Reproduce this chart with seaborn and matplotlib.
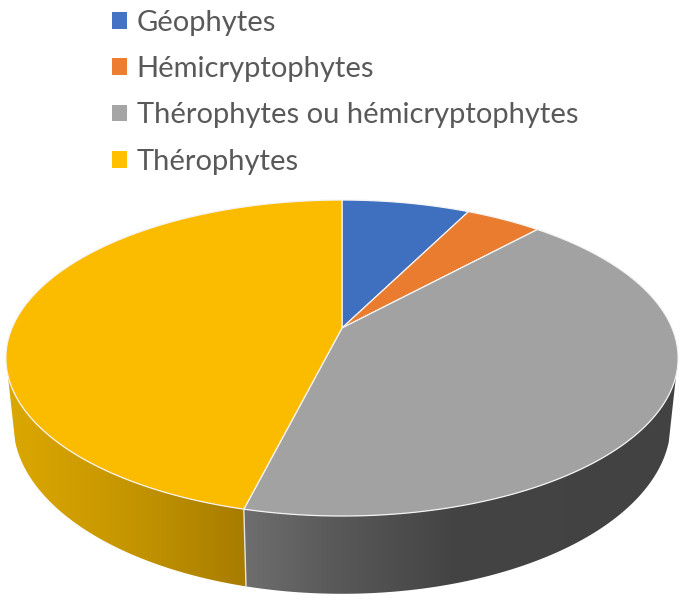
import numpy as np
import matplotlib.pyplot as plt
from matplotlib.patches import Patch, Polygon
from matplotlib.colors import to_rgb
import seaborn as sns

labels = ['Géophytes', 'Hémicryptophytes', 'Thérophytes ou hémicryptophytes', 'Thérophytes']
shares = [7.4, 4.4, 42.1, 46.1]
legend_colors = ['#4472C4', '#ED7D31', '#A5A5A5', '#FFC000']
top_colors = ['#3F6FBF', '#EA7C30', '#A2A2A2', '#FBBC00']

# wall shading, sampled along x in pixels
wall_x = [None, None, [245, 330, 450, 683], [5, 120, 245]]
wall_colors = [None, None,
               ['#6E6E6E', '#5A5A5A', '#444444', '#424242'],
               ['#DCA800', '#C79700', '#A87C00']]

# projection of the tilted disc
apex_x, apex_y = 342, 328
persp = 0.19
scale_x, scale_y = 330, 152.3
depth = 63
bottom_shrink = 0.978
wall_limit = -0.29

sns.set_theme(style='white')
plt.rcParams['font.family'] = ['Lato', 'DejaVu Sans']


def project(angle, lower=False):
    u, v = np.sin(angle), np.cos(angle)
    d = 1 + persp * v
    x = scale_x * u / d
    y = apex_y - scale_y * v / d
    if lower:
        return apex_x + bottom_shrink * x, y + depth / d
    return apex_x + x, y


fig = plt.figure(figsize=(6.83, 6.00), dpi=100)
ax = fig.add_axes([0, 0, 1, 1])

edges = np.radians(np.concatenate([[0], np.cumsum(shares)]) * 3.6)

# side wall, one gradient image per slice clipped to its outline
columns = np.arange(683) + 0.5
for i in range(len(shares)):
    if wall_x[i] is None:
        continue
    steps = np.linspace(edges[i], edges[i + 1], 400)
    steps = steps[np.cos(steps) < wall_limit]
    outline = [project(a) for a in steps] + [project(a, True) for a in steps[::-1]]
    shape = Polygon(outline, closed=True, facecolor='none', edgecolor='none', transform=ax.transData)
    ax.add_patch(shape)
    ramp = np.array([np.interp(columns, wall_x[i], [to_rgb(k)[n] for k in wall_colors[i]]) for n in range(3)]).T
    im = ax.imshow(ramp[np.newaxis, :, :], extent=(0, 683, 600, 0), aspect='auto', zorder=2)
    im.set_clip_path(shape)

# seam between the two front slices
seam = edges[3]
ax.plot(*zip(project(seam), project(seam, True)), color='#E4E4E4', lw=1.0, zorder=3)

# top of the pie
for i in range(len(shares)):
    steps = np.linspace(edges[i], edges[i + 1], 200)
    pts = [(apex_x, apex_y)] + [project(a) for a in steps]
    ax.add_patch(Polygon(pts, closed=True, facecolor=top_colors[i], edgecolor='#F4F4F4',
                         linewidth=0.9, joinstyle='round', zorder=4))

ax.set_xlim(0, 683)
ax.set_ylim(600, 0)
ax.axis('off')

handles = [Patch(facecolor=c, edgecolor='none') for c in sns.color_palette(legend_colors)]
ax.legend(handles, labels, loc='upper left', bbox_to_anchor=(88.6, -13.8), bbox_transform=ax.transData,
          frameon=False, fontsize=21, labelcolor='#595959', handlelength=0.51, handleheight=0.51,
          handletextpad=0.34, labelspacing=0.70, borderpad=0.3)

fig.savefig('out.png', dpi=100)
